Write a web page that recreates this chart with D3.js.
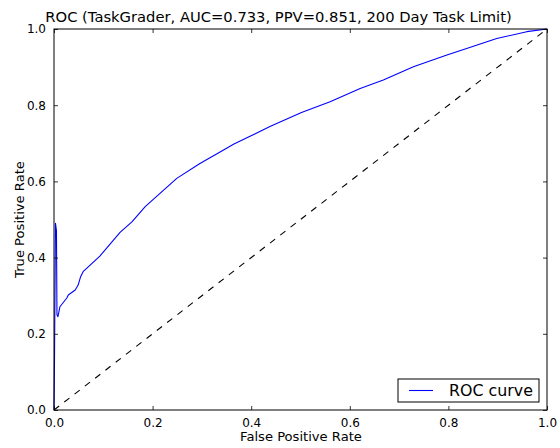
<!DOCTYPE html>
<html><head><meta charset="utf-8">
<script src="https://cdn.jsdelivr.net/npm/d3@7"></script>
<style>body{margin:0;background:#fff;} text{font-family:"DejaVu Sans";}</style>
</head><body>
<svg id="c" width="560" height="448"></svg>
<script>
const fpr = [0, 0.001, 0.003, 0.005, 0.006, 0.008, 0.012, 0.026, 0.029, 0.043, 0.049, 0.054, 0.059, 0.093, 0.134, 0.158, 0.185, 0.249, 0.296, 0.343, 0.365, 0.438, 0.502, 0.560, 0.621, 0.668, 0.729, 0.797, 0.837, 0.898, 0.959, 1.0];
const tpr = [0, 0.13, 0.49, 0.47, 0.25, 0.245, 0.271, 0.294, 0.302, 0.315, 0.328, 0.35, 0.363, 0.404, 0.466, 0.494, 0.534, 0.608, 0.647, 0.682, 0.698, 0.744, 0.781, 0.809, 0.844, 0.866, 0.901, 0.932, 0.949, 0.975, 0.993, 1.0];
const chance = [0, 1];
const ticks = [0, 0.2, 0.4, 0.6, 0.8, 1.0];
const title = "ROC (TaskGrader, AUC=0.733, PPV=0.851, 200 Day Task Limit)";
const xLabel = "False Positive Rate", yLabel = "True Positive Rate", legendLabel = "ROC curve";

const L = 54, R = 547, T = 29, B = 410;
const svg = d3.select("#c");
const x = d3.scaleLinear().domain([0, 1]).range([L, R]);
const y = d3.scaleLinear().domain([0, 1]).range([B, T]);
const fmt = d3.format(".1f");

function fitFont(sel, base, target) {
  const w = sel.node().getComputedTextLength();
  sel.attr("font-size", base * target / w);
}

svg.append("path").datum(chance)
  .attr("d", d3.line().x(d => x(d)).y(d => y(d)))
  .attr("fill", "none").attr("stroke", "#000").attr("stroke-width", 1.1)
  .attr("stroke-dasharray", "6.5,6.5");
const pts = fpr.map((f, i) => [f, tpr[i]]);
svg.append("path").datum(pts)
  .attr("d", d3.line().x(d => x(d[0])).y(d => y(d[1])))
  .attr("fill", "none").attr("stroke", "#0000ff").attr("stroke-width", 1.1)
  .attr("stroke-linejoin", "round");

function styleAxis(g) {
  g.select(".domain").remove();
  g.selectAll("line").attr("stroke", "#000").attr("stroke-width", 0.8);
  g.selectAll("text").attr("font-family", "DejaVu Sans").attr("font-size", 12).attr("fill", "#000");
}
svg.append("g").attr("transform", `translate(0,${B})`)
  .call(d3.axisBottom(x).tickValues(ticks).tickFormat(fmt).tickSizeInner(-4).tickSizeOuter(0).tickPadding(8))
  .call(styleAxis);
svg.append("g").attr("transform", `translate(0,${T})`)
  .call(d3.axisTop(x).tickValues(ticks).tickFormat("").tickSizeInner(-4).tickSizeOuter(0))
  .call(styleAxis);
svg.append("g").attr("transform", `translate(${L},0)`)
  .call(d3.axisLeft(y).tickValues(ticks).tickFormat(fmt).tickSizeInner(-4).tickSizeOuter(0).tickPadding(8))
  .call(styleAxis);
svg.append("g").attr("transform", `translate(${R},0)`)
  .call(d3.axisRight(y).tickValues(ticks).tickFormat("").tickSizeInner(-4).tickSizeOuter(0))
  .call(styleAxis);

svg.append("rect").attr("x", L).attr("y", T).attr("width", R - L).attr("height", B - T)
  .attr("fill", "none").attr("stroke", "#000").attr("stroke-width", 1);

const tt = svg.append("text").attr("x", 278.5).attr("y", 22).attr("text-anchor", "middle")
  .attr("font-size", 14).text(title);
fitFont(tt, 14, 467);
const xl = svg.append("text").attr("x", 301).attr("y", 441).attr("text-anchor", "middle")
  .attr("font-size", 12).text(xLabel);
fitFont(xl, 12, 122);
const yl = svg.append("text").attr("transform", `translate(24,${(T + B) / 2}) rotate(-90)`).attr("text-anchor", "middle")
  .attr("font-size", xl.attr("font-size")).text(yLabel);

const lg = svg.append("g");
lg.append("rect").attr("x", 398).attr("y", 379).attr("width", 141).attr("height", 23)
  .attr("fill", "#fff").attr("stroke", "#000").attr("stroke-width", 1);
lg.append("line").attr("x1", 409).attr("x2", 433).attr("y1", 390.5).attr("y2", 390.5)
  .attr("stroke", "#0000ff").attr("stroke-width", 1.1);
const lt = lg.append("text").attr("x", 449).attr("y", 396).attr("font-size", 14).text(legendLabel);
fitFont(lt, 14, 84);
</script>
</body></html>
